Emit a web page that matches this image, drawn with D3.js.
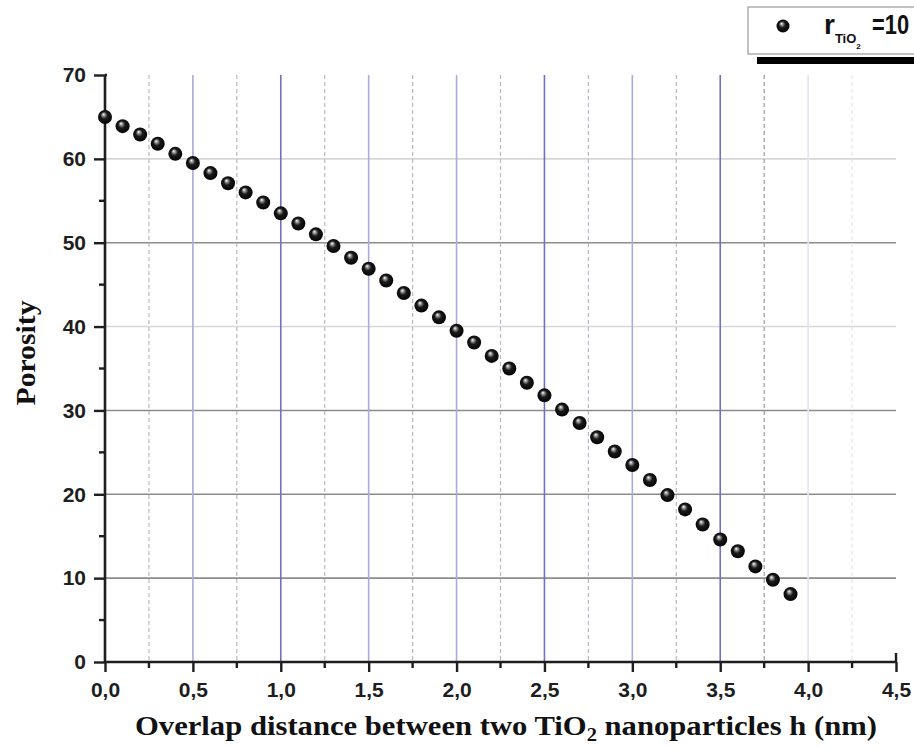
<!DOCTYPE html>
<html>
<head>
<meta charset="utf-8">
<script src="https://cdn.jsdelivr.net/npm/d3@7"></script>
<style>
  body { margin: 0; background: #ffffff; }
  svg { display: block; }
</style>
</head>
<body>
<script>
// data
var overlap = [0.0, 0.1, 0.2, 0.3, 0.4, 0.5, 0.6, 0.7, 0.8, 0.9,
               1.0, 1.1, 1.2, 1.3, 1.4, 1.5, 1.6, 1.7, 1.8, 1.9,
               2.0, 2.1, 2.2, 2.3, 2.4, 2.5, 2.6, 2.7, 2.8, 2.9,
               3.0, 3.1, 3.2, 3.3, 3.4, 3.5, 3.6, 3.7, 3.8, 3.9];
var porosity = [65.0, 63.9, 62.9, 61.8, 60.6, 59.5, 58.3, 57.1, 56.0, 54.8,
                53.5, 52.3, 51.0, 49.6, 48.2, 46.9, 45.5, 44.0, 42.5, 41.1,
                39.5, 38.1, 36.5, 35.0, 33.3, 31.8, 30.1, 28.5, 26.8, 25.1,
                23.5, 21.7, 19.9, 18.2, 16.4, 14.6, 13.2, 11.4, 9.8, 8.1];
var xTicks = [0, 0.5, 1.0, 1.5, 2.0, 2.5, 3.0, 3.5, 4.0, 4.5];
var xMinor = [0.25, 0.75, 1.25, 1.75, 2.25, 2.75, 3.25, 3.75, 4.25];
var yTicks = [0, 10, 20, 30, 40, 50, 60, 70];
var yMinor = [5, 15, 25, 35, 45, 55, 65];

var axiscolour = "#1e1e1e";

var svg = d3.select("body")
    .append("svg")
    .attr("width", 914)
    .attr("height", 747);

var x = d3.scaleLinear().domain([0, 4.5]).range([105, 896]);
var y = d3.scaleLinear().domain([0, 70]).range([662, 75]);

// sphere look for the markers
var defs = svg.append("defs");
var grad = defs.append("radialGradient")
    .attr("id", "ball")
    .attr("cx", "50%").attr("cy", "50%").attr("r", "55%")
    .attr("fx", "38%").attr("fy", "30%");
grad.append("stop").attr("offset", "0%").attr("stop-color", "#ffffff");
grad.append("stop").attr("offset", "18%").attr("stop-color", "#9a9a9a");
grad.append("stop").attr("offset", "45%").attr("stop-color", "#1a1a1a");
grad.append("stop").attr("offset", "100%").attr("stop-color", "#000000");

// grid - horizontal
svg.append("g").selectAll("line")
    .data(yTicks.filter(function(d){ return d > 0 && d < 70; }))
    .enter().append("line")
    .attr("x1", x(0)).attr("x2", x(4.5))
    .attr("y1", function(d){ return y(d); })
    .attr("y2", function(d){ return y(d); })
    .attr("stroke", function(d){ return (d == 60 || d == 40) ? "#d6d6d6" : "#8c8c8c"; })
    .attr("stroke-width", 1.6);

// grid - vertical minor (dashed)
svg.append("g").selectAll("line")
    .data(xMinor)
    .enter().append("line")
    .attr("x1", function(d){ return x(d); })
    .attr("x2", function(d){ return x(d); })
    .attr("y1", y(70)).attr("y2", y(0))
    .attr("stroke", function(d){ return d > 4 ? "#e6e6ee" : (d == 3.75 ? "#9a9aa8" : "#b8b8c8"); })
    .attr("stroke-width", 1.2)
    .attr("stroke-dasharray", "4,3");

// grid - vertical major
svg.append("g").selectAll("line")
    .data(xTicks.filter(function(d){ return d > 0 && d < 4.5; }))
    .enter().append("line")
    .attr("x1", function(d){ return x(d); })
    .attr("x2", function(d){ return x(d); })
    .attr("y1", y(70)).attr("y2", y(0))
    .attr("stroke", function(d){
        if (d == 4.0) return "#e4e4ee";
        if (d == 1.0 || d == 2.5 || d == 3.5) return "#6f6fc4";
        return "#aaaadc";
    })
    .attr("stroke-width", 1.6);

// axes
var fmt = function(d){ return d3.format(".1f")(d).replace(".", ","); };

var xAxis = svg.append("g")
    .attr("transform", "translate(0," + y(0) + ")")
    .call(d3.axisBottom(x).tickValues(xTicks).tickSize(10).tickPadding(10).tickFormat(fmt));
xAxis.append("g").selectAll("line")
    .data(xMinor)
    .enter().append("line")
    .attr("x1", function(d){ return x(d); })
    .attr("x2", function(d){ return x(d); })
    .attr("y1", 0).attr("y2", 6);
// stub at the right end
xAxis.append("line")
    .attr("x1", x(4.5)).attr("x2", x(4.5))
    .attr("y1", -9).attr("y2", 0);

var yAxis = svg.append("g")
    .attr("transform", "translate(" + x(0) + ",0)")
    .call(d3.axisLeft(y).tickValues(yTicks).tickSize(11).tickPadding(8));
yAxis.append("g").selectAll("line")
    .data(yMinor)
    .enter().append("line")
    .attr("x1", -6).attr("x2", 0)
    .attr("y1", function(d){ return y(d); })
    .attr("y2", function(d){ return y(d); });
// stub at the top end
yAxis.append("line")
    .attr("x1", 0).attr("x2", 2)
    .attr("y1", y(70)).attr("y2", y(70));

svg.selectAll(".domain")
    .attr("stroke", axiscolour)
    .attr("stroke-width", 2.6);
xAxis.selectAll("line").attr("stroke", axiscolour).attr("stroke-width", 2.4);
yAxis.selectAll("line").attr("stroke", axiscolour).attr("stroke-width", 2.4);
xAxis.select(".domain").attr("d", "M" + x(0) + ",0H" + x(4.5));
yAxis.select(".domain").attr("d", "M0," + y(0) + "V" + y(70));

svg.selectAll(".tick text")
    .style("font-family", "'Liberation Sans', Arial, sans-serif")
    .style("font-weight", "bold")
    .style("font-size", "21px")
    .attr("fill", "#1e1e1e");

// data points
svg.append("g").selectAll("circle")
    .data(overlap)
    .enter().append("circle")
    .attr("cx", function(d){ return x(d); })
    .attr("cy", function(d, i){ return y(porosity[i]); })
    .attr("r", 7)
    .attr("fill", "url(#ball)");

// axis titles
var xt = svg.append("text")
    .attr("x", 506)
    .attr("y", 735)
    .attr("text-anchor", "middle")
    .style("font-family", "'Liberation Serif', 'Times New Roman', serif")
    .style("font-weight", "bold")
    .style("font-size", "27px")
    .attr("fill", "#111")
    .attr("textLength", 742)
    .attr("lengthAdjust", "spacingAndGlyphs");
xt.append("tspan").text("Overlap distance between two TiO");
xt.append("tspan").attr("dy", 6).style("font-size", "18px").text("2");
xt.append("tspan").attr("dy", -6).text(" nanoparticles h (nm)");

svg.append("text")
    .attr("transform", "translate(35,353) rotate(-90)")
    .attr("text-anchor", "middle")
    .style("font-family", "'Liberation Serif', 'Times New Roman', serif")
    .style("font-weight", "bold")
    .style("font-size", "27px")
    .attr("fill", "#111")
    .attr("textLength", 105)
    .attr("lengthAdjust", "spacingAndGlyphs")
    .text("Porosity");

// legend box with its shadow
svg.append("rect")
    .attr("x", 757).attr("y", 57)
    .attr("width", 157).attr("height", 7)
    .attr("fill", "#000");
svg.append("rect")
    .attr("x", 748).attr("y", 7)
    .attr("width", 170).attr("height", 47)
    .attr("fill", "#fff")
    .attr("stroke", "#9a9a9a")
    .attr("stroke-width", 1.2);
svg.append("circle")
    .attr("cx", 783).attr("cy", 26)
    .attr("r", 6.5)
    .attr("fill", "url(#ball)");
var lg = svg.append("text")
    .attr("x", 824).attr("y", 34)
    .style("font-family", "'Liberation Sans', Arial, sans-serif")
    .style("font-weight", "bold")
    .style("font-size", "28px")
    .attr("fill", "#111");
lg.append("tspan").text("r");
lg.append("tspan").attr("dy", 9).style("font-size", "13px").text("TiO");
lg.append("tspan").attr("dy", 6).style("font-size", "8px").text("2");
svg.append("text")
    .attr("transform", "translate(872,34) scale(0.78,1)")
    .style("font-family", "'Liberation Sans', Arial, sans-serif")
    .style("font-weight", "bold")
    .style("font-size", "28px")
    .attr("fill", "#111")
    .text("=10");
</script>
</body>
</html>
